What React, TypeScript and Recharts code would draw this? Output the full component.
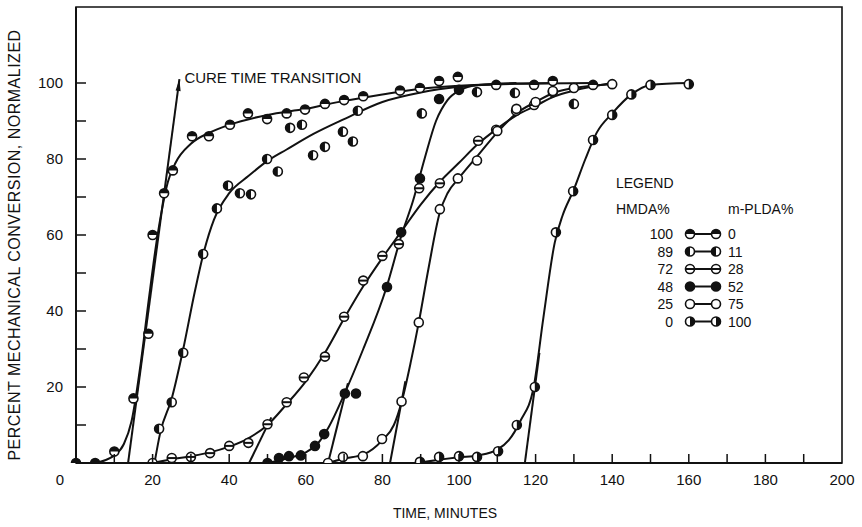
import { ComposedChart, Line, Scatter, XAxis, YAxis, ReferenceArea, ReferenceDot } from 'recharts';

type Pt = [number, number];
type Kind = 'top' | 'left' | 'bar' | 'full' | 'open' | 'right';

const xTicks = [0, 10, 20, 30, 40, 50, 60, 70, 80, 90, 100, 110, 120, 130, 140, 150, 160, 170, 180, 190, 200];
const xTickLabels = [0, 20, 40, 60, 80, 100, 120, 140, 160, 180, 200];
const yTicks = [10, 20, 30, 40, 50, 60, 70, 80, 90, 100];
const yTickLabels = [20, 40, 60, 80, 100];

// legend
const hmdaPct = ['100', '89', '72', '48', '25', '0'];
const mpldaPct = ['0', '11', '28', '52', '75', '100'];
const markerKinds: Kind[] = ['top', 'left', 'bar', 'full', 'open', 'right'];

// measured points (time min, % conversion)
const pts100: Pt[] = [[0, 0], [5, 0], [10, 3], [15, 17], [18.9, 34], [20, 60], [23, 71], [25.3, 77], [30.3, 86], [34.7, 86], [40.2, 89], [44.9, 92], [49.9, 90.5], [55, 92], [59.8, 93], [65, 94.5], [70, 95.5], [75, 96.5], [84.6, 98], [89.8, 98.7], [94.8, 100.5], [99.7, 101.6], [109.7, 99.5], [119.6, 99.5], [124.5, 100.5], [135, 99.5]];
const pts89: Pt[] = [[21.7, 9], [25, 16], [28, 29], [33.2, 55], [36.8, 67], [39.7, 73], [42.8, 71], [45.7, 70.7], [49.9, 80], [52.7, 76.7], [55.9, 88.2], [59, 89], [61.9, 81], [65, 83.2], [69.7, 87.2], [72.3, 84.6], [73.6, 92.7], [90.3, 92], [104.7, 97.6], [114.6, 97.4], [130, 94.5]];
const pts72: Pt[] = [[20, 0], [25, 1.3], [30, 1.6], [35, 2.6], [40, 4.5], [45, 5.3], [50, 10.2], [55, 16], [59.5, 22.5], [65, 28], [70, 38.5], [75, 48], [80, 54.5], [84.3, 57.6], [89.6, 72.3], [95, 73.6], [105, 84.8], [109.7, 87.7], [114.9, 92.7], [119.6, 94.2], [124.5, 97.6]];
const pts48: Pt[] = [[50, 0], [53, 1.3], [55.6, 1.8], [58.7, 2], [62.4, 4.5], [64.8, 7.6], [70.2, 18.3], [73.1, 18.3], [81.2, 46.3], [84.9, 60.7], [89.8, 74.9], [94.8, 95.8], [100, 98.2]];
const pts25: Pt[] = [[65.8, 0], [69.7, 1.6], [74.9, 1.8], [79.9, 6.3], [85, 16.2], [89.5, 37], [95, 66.8], [99.7, 74.9], [104.7, 79.6], [110, 87.4], [115, 93.2], [120, 95], [124.5, 97.9], [130, 98.7], [140, 99.7]];
const pts0: Pt[] = [[89.8, 0.3], [94.8, 1.6], [100, 1.8], [104.7, 1.6], [110.2, 3.1], [115.1, 10], [119.8, 20], [125.3, 60.7], [129.8, 71.5], [135, 85], [140, 91.6], [145, 97], [150, 99.5], [160, 99.7]];

// hand-drawn fitted curves
const fit100: Pt[] = [[5, 0], [10, 2], [12.5, 5], [14.5, 11], [17, 27], [19, 43], [21, 58], [22.5, 67], [24, 74], [26, 79], [30, 84], [35, 87], [40, 89], [50, 91.6], [60, 93.2], [70, 95.3], [80, 97], [90, 98.5], [100, 99.3], [115, 99.8], [135, 100]];
const fit89: Pt[] = [[20.5, 0], [22, 8], [25, 17], [28, 30], [31, 45], [33.5, 56], [36, 64], [40, 71], [45, 75.5], [50, 79.5], [55, 82.5], [62, 86.6], [70, 90.5], [80, 95], [90, 97.5], [100, 99], [110, 99.7], [125, 100]];
const fit72: Pt[] = [[20, 0], [25, 1], [30, 1.8], [35, 2.8], [40, 4.3], [45, 6.5], [50, 10], [55, 15.5], [60, 21.5], [65, 29], [70, 38], [75, 46.5], [80, 54], [85, 61], [90, 68], [95, 74], [100, 79], [105, 84], [110, 88], [115, 91.5], [120, 94], [125, 96.5], [130, 98], [140, 100]];
const fit48: Pt[] = [[50, 0], [55, 1.2], [60, 2.8], [63, 5], [66, 9.5], [70, 18], [75, 30], [81, 46], [85, 60], [88, 69], [91, 80], [94, 90], [97, 95.5], [100, 98], [105, 99.5], [115, 100]];
const fit25: Pt[] = [[65.8, 0], [70, 1.2], [75, 2.2], [80, 6], [83, 10], [85, 16], [87.5, 27], [89.5, 37], [92, 51], [95, 66], [97, 71], [100, 75], [105, 81], [110, 87], [115, 92], [120, 95], [125, 97.5], [130, 98.7], [140, 99.7]];
const fit0: Pt[] = [[89, 0], [100, 1.5], [105, 2], [110, 3.5], [113, 6], [116, 11], [119.5, 20], [122, 38], [125, 58], [127, 65], [130, 72], [133, 80], [136, 87], [140, 92], [145, 97], [150, 99.5], [160, 100]];

// straight transition lines
const tan100: Pt[] = [[13.6, 0], [27, 101]];
const tan72: Pt[] = [[45.2, 0], [51, 12]];
const tan48: Pt[] = [[65.8, 0], [71, 21]];
const tan25: Pt[] = [[82, 0], [86, 21.5]];
const tan0: Pt[] = [[117.2, 0], [121, 29]];

// annotation anchor
const curePos: Pt = [28.3, 101.3];

const rows = (p: Pt[]) => p.map(([t, v]) => ({ t, v }));

const INK = '#111';
const FONT = "'Liberation Sans', Arial, sans-serif";

const Marker = ({ cx, cy, kind, r = 4.5 }: { cx: number; cy: number; kind: Kind; r?: number }) => {
  let inner = null;
  if (kind === 'top') inner = <path d={`M${cx - r},${cy} A${r},${r} 0 0 1 ${cx + r},${cy} Z`} fill={INK} />;
  if (kind === 'left') inner = <path d={`M${cx},${cy - r} A${r},${r} 0 0 0 ${cx},${cy + r} Z`} fill={INK} />;
  if (kind === 'right') inner = <path d={`M${cx},${cy - r} A${r},${r} 0 0 1 ${cx},${cy + r} Z`} fill={INK} />;
  if (kind === 'bar') inner = <line x1={cx - r} x2={cx + r} y1={cy} y2={cy} stroke={INK} strokeWidth={2} />;
  return (
    <g>
      <circle cx={cx} cy={cy} r={r} fill={kind === 'full' ? INK : '#fff'} />
      {inner}
      <circle cx={cx} cy={cy} r={r} fill="none" stroke={INK} strokeWidth={1.6} />
    </g>
  );
};

const series = [
  { pts: pts100, fit: fit100, tan: tan100, kind: 'top' as Kind },
  { pts: pts89, fit: fit89, tan: null, kind: 'left' as Kind },
  { pts: pts72, fit: fit72, tan: tan72, kind: 'bar' as Kind },
  { pts: pts48, fit: fit48, tan: tan48, kind: 'full' as Kind },
  { pts: pts25, fit: fit25, tan: tan25, kind: 'open' as Kind },
  { pts: pts0, fit: fit0, tan: tan0, kind: 'right' as Kind },
];

const XTick = (props: any) => {
  const { x, y, payload } = props;
  const v = payload.value;
  const showLabel = xTickLabels.includes(v);
  return (
    <g>
      {v > 0 && v < 200 && <line x1={x} x2={x} y1={y} y2={y - 9} stroke={INK} strokeWidth={1.5} />}
      {showLabel && (
        <text x={v === 0 ? x - 16 : x} y={y + 22} textAnchor="middle" fontSize={15} fontFamily={FONT} fill={INK}>
          {v}
        </text>
      )}
    </g>
  );
};

const YTick = (props: any) => {
  const { x, y, payload } = props;
  const v = payload.value;
  return (
    <g>
      <line x1={x} x2={x + 10} y1={y} y2={y} stroke={INK} strokeWidth={1.5} />
      {yTickLabels.includes(v) && (
        <text x={x - 13} y={y + 5} textAnchor="end" fontSize={15} fontFamily={FONT} fill={INK}>
          {v}
        </text>
      )}
    </g>
  );
};

const arrowHead = (props: any) => {
  const { cx, cy, index } = props;
  if (index !== 1) return <g key={`a${index}`} />;
  return <path key="arrow" d={`M${cx},${cy} L${cx + 1.2},${cy + 12} L${cx - 3.8},${cy + 11.3} Z`} fill={INK} />;
};

const CureLabel = (props: any) => {
  const { viewBox } = props;
  return (
    <text x={viewBox.x} y={viewBox.y + 5} fontSize={15} fontFamily={FONT} fill={INK}>
      CURE TIME TRANSITION
    </text>
  );
};

const Legend = () => (
  <svg width={862} height={527} style={{ position: 'absolute', left: 0, top: 0, pointerEvents: 'none' }}>
    <g fontFamily={FONT} fontSize={14} fill={INK}>
      <text x={616} y={188}>LEGEND</text>
      <text x={616} y={214}>HMDA%</text>
      <text x={728} y={214}>m-PLDA%</text>
      {hmdaPct.map((h, i) => {
        const cy = 234 + i * 17.5;
        return (
          <g key={h}>
            <text x={673} y={cy + 5} textAnchor="end">{h}</text>
            <line x1={690} x2={716} y1={cy} y2={cy} stroke={INK} strokeWidth={2} />
            <Marker cx={690} cy={cy} kind={markerKinds[i]} />
            <Marker cx={716} cy={cy} kind={markerKinds[i]} />
            <text x={728} y={cy + 5}>{mpldaPct[i]}</text>
          </g>
        );
      })}
    </g>
  </svg>
);

export default function App() {
  return (
    <div style={{ position: 'absolute', left: 0, top: 0, width: 862, height: 527, background: '#fff' }}>
      <ComposedChart width={862} height={527} margin={{ top: 7, right: 20, bottom: 0, left: 0 }}>
        <XAxis
          dataKey="t"
          type="number"
          domain={[0, 200]}
          ticks={xTicks}
          interval={0}
          tickSize={0}
          tickMargin={0}
          tickLine={false}
          tick={<XTick />}
          height={64}
          axisLine={{ stroke: INK, strokeWidth: 2 }}
          label={{
            content: (p: any) => (
              <text x={p.viewBox.x + p.viewBox.width / 2 - 14} y={p.viewBox.y + 55} textAnchor="middle" fontSize={14} fontFamily={FONT} fill={INK}>
                TIME, MINUTES
              </text>
            ),
          }}
        />
        <YAxis
          dataKey="v"
          type="number"
          domain={[0, 120]}
          ticks={yTicks}
          interval={0}
          tickSize={0}
          tickMargin={0}
          tickLine={false}
          tick={<YTick />}
          width={76}
          allowDataOverflow
          axisLine={{ stroke: INK, strokeWidth: 2 }}
          label={{
            content: (p: any) => {
              const cx = 14;
              const cy = p.viewBox.y + p.viewBox.height / 2 + 10;
              return (
                <text x={cx} y={cy} transform={`rotate(-90 ${cx} ${cy})`} textAnchor="middle" dominantBaseline="central" fontSize={16} letterSpacing={0.5} fontFamily={FONT} fill={INK}>
                  PERCENT MECHANICAL CONVERSION, NORMALIZED
                </text>
              );
            },
          }}
        />
        <ReferenceArea x1={0} x2={200} y1={0} y2={120} fill="none" stroke={INK} strokeWidth={1.6} ifOverflow="visible" />
        {series.map((s, i) => (
          <Line key={`fit${i}`} data={rows(s.fit)} dataKey="v" type="monotone" stroke={INK} strokeWidth={2} dot={false} isAnimationActive={false} />
        ))}
        {series.map((s, i) =>
          s.tan ? (
            <Line
              key={`tan${i}`}
              data={rows(s.tan)}
              dataKey="v"
              type="linear"
              stroke={INK}
              strokeWidth={2}
              dot={i === 0 ? arrowHead : false}
              isAnimationActive={false}
            />
          ) : null
        )}
        {series.map((s, i) => (
          <Scatter
            key={`pts${i}`}
            data={rows(s.pts)}
            dataKey="v"
            isAnimationActive={false}
            shape={(p: any) => <Marker cx={p.cx} cy={p.cy} kind={s.kind} />}
          />
        ))}
        <ReferenceDot x={curePos[0]} y={curePos[1]} r={0} fill="none" stroke="none" ifOverflow="visible" label={<CureLabel />} />
      </ComposedChart>
      <Legend />
    </div>
  );
}
